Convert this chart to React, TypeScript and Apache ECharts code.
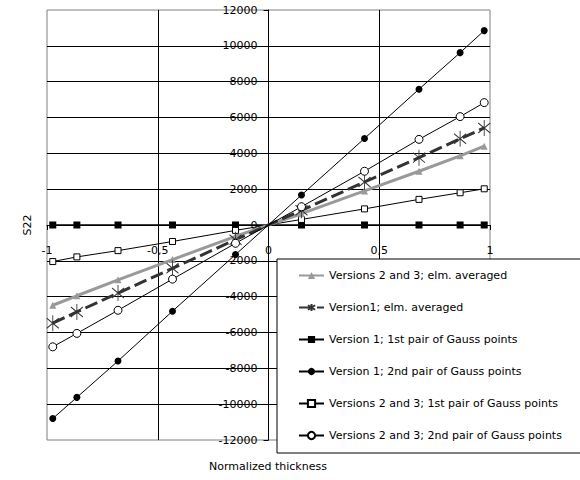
import React, { useEffect, useRef } from 'react';
import * as echarts from 'echarts';

// Normalized thickness positions (Gauss points)
const gaussX = [-0.9739, -0.8651, -0.6794, -0.4334, -0.1489, 0.1489, 0.4334, 0.6794, 0.8651, 0.9739];

// S22 values
const v23ElmAveraged = [-4480, -3950, -3060, -1930, -630, 630, 1900, 3000, 3860, 4400];
const v1ElmAveraged = [-5480, -4850, -3800, -2420, -820, 820, 2400, 3760, 4810, 5420];
const v1FirstPair = [0, 0, 0, 0, 0, 0, 0, 0, 0, 0];
const v1SecondPair = [-10800, -9620, -7590, -4810, -1650, 1670, 4830, 7580, 9620, 10850];
const v23FirstPair = [-2040, -1780, -1430, -920, -300, 310, 900, 1430, 1800, 2020];
const v23SecondPair = [-6800, -6050, -4760, -3020, -1020, 1020, 3000, 4780, 6050, 6830];

const seriesNames = [
  'Versions 2 and 3; elm. averaged',
  'Version1; elm. averaged',
  'Version 1; 1st pair of Gauss points',
  'Version 1; 2nd pair of Gauss points',
  'Versions 2 and 3; 1st pair of Gauss points',
  'Versions 2 and 3; 2nd pair of Gauss points',
];

const xTickLabels: Record<string, string> = { '-1': '-1', '-0.5': '-0,5', '0': '0', '0.5': '0,5', '1': '1' };

const FONT = 'DejaVu Sans, sans-serif';
const STAR = 'path://M6,0 L6,16 M0,3 L12,13 M0,13 L12,3';

const GRID_LEFT = 47;
const GRID_RIGHT = 90;
const GRID_TOP = 10;
const GRID_BOTTOM = 40;
const W = 580;
const H = 480;

export default function App() {
  const ref = useRef<HTMLDivElement>(null);
  useEffect(() => {
    const chart = echarts.init(ref.current!, null, { renderer: 'svg' });
    const pairs = (ys: number[]) => gaussX.map((x, i) => [x, ys[i]]);
    const plotW = W - GRID_LEFT - GRID_RIGHT;
    const plotH = H - GRID_TOP - GRID_BOTTOM;
    chart.setOption({
      animation: false,
      textStyle: { fontFamily: FONT },
      grid: {
        left: GRID_LEFT, right: GRID_RIGHT, top: GRID_TOP, bottom: GRID_BOTTOM,
        show: true, borderColor: '#808080', borderWidth: 1, backgroundColor: 'transparent',
      },
      xAxis: {
        type: 'value', min: -1, max: 1, interval: 0.5,
        position: 'bottom', offset: -plotH / 2,
        axisLine: { onZero: false, lineStyle: { color: '#000', width: 1 } },
        axisTick: { show: true, length: 5, lineStyle: { color: '#000' } },
        axisLabel: {
          margin: 20, fontSize: 11, color: '#000', fontFamily: FONT,
          formatter: (v: number) => xTickLabels[String(v)] ?? String(v),
        },
        splitLine: { show: true, showMinLine: false, showMaxLine: false, lineStyle: { color: '#000', width: 1 } },
      },
      yAxis: {
        type: 'value', min: -12000, max: 12000, interval: 2000,
        position: 'left', offset: -plotW / 2,
        axisLine: { onZero: false, lineStyle: { color: '#000', width: 1 } },
        axisTick: { show: true, length: 5, lineStyle: { color: '#000' } },
        axisLabel: { margin: 11, fontSize: 11, color: '#000', fontFamily: FONT, formatter: (v: number) => String(v) },
        splitLine: { show: true, showMinLine: false, showMaxLine: false, lineStyle: { color: '#000', width: 1 } },
      },
      legend: {
        orient: 'vertical',
        left: 277, top: 259,
        padding: [11, 50, 12, 21],
        itemWidth: 25, itemHeight: 9, itemGap: 21,
        backgroundColor: '#fff', borderColor: '#000', borderWidth: 1,
        selectedMode: false,
        textStyle: { fontSize: 11, color: '#000', fontFamily: FONT },
        data: seriesNames,
      },
      graphic: [
        {
          type: 'text', x: 27, y: 225, rotation: Math.PI / 2,
          style: { text: 'S22', fontSize: 11, fill: '#000', fontFamily: FONT, align: 'center', verticalAlign: 'middle' },
        },
        {
          type: 'text', x: 268, y: 466,
          style: { text: 'Normalized thickness', fontSize: 11, fill: '#000', fontFamily: FONT, align: 'center', verticalAlign: 'middle' },
        },
      ],
      series: [
        {
          name: seriesNames[2], type: 'line', data: pairs(v1FirstPair),
          symbol: 'rect', symbolSize: 7,
          lineStyle: { color: '#000', width: 1.5 },
          itemStyle: { color: '#000' },
        },
        {
          name: seriesNames[4], type: 'line', data: pairs(v23FirstPair),
          symbol: 'rect', symbolSize: 6,
          lineStyle: { color: '#000', width: 1 },
          itemStyle: { color: '#fff', borderColor: '#000', borderWidth: 1 },
        },
        {
          name: seriesNames[0], type: 'line', data: pairs(v23ElmAveraged),
          symbol: 'triangle', symbolSize: 7,
          lineStyle: { color: '#999', width: 3 },
          itemStyle: { color: '#999' },
        },
        {
          name: seriesNames[1], type: 'line', data: pairs(v1ElmAveraged),
          symbol: STAR, symbolSize: [12, 16],
          lineStyle: { color: '#333', width: 3, type: [13, 5] },
          itemStyle: { color: 'transparent', borderColor: '#333', borderWidth: 1 },
        },
        {
          name: seriesNames[5], type: 'line', data: pairs(v23SecondPair),
          symbol: 'circle', symbolSize: 8,
          lineStyle: { color: '#000', width: 1 },
          itemStyle: { color: '#fff', borderColor: '#000', borderWidth: 1 },
        },
        {
          name: seriesNames[3], type: 'line', data: pairs(v1SecondPair),
          symbol: 'circle', symbolSize: 7,
          lineStyle: { color: '#000', width: 1 },
          itemStyle: { color: '#000' },
        },
      ],
    });
    return () => chart.dispose();
  }, []);
  return <div ref={ref} style={{ position: 'absolute', left: 0, top: 0, width: W, height: H }} />;
}
